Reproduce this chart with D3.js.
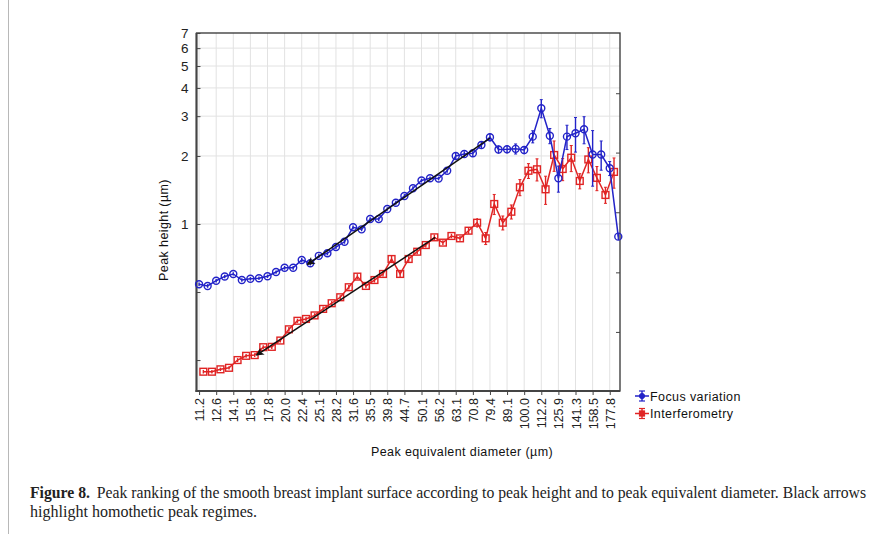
<!DOCTYPE html>
<html>
<head>
<meta charset="utf-8">
<script src="https://cdn.jsdelivr.net/npm/d3@7"></script>
<style>
  html, body { margin: 0; padding: 0; background: #fff; }
  svg { display: block; }
</style>
</head>
<body>
<svg id="chart" width="879" height="534"></svg>
<script>
// ---------- DATA ----------
const xLabels = ["11.2","12.6","14.1","15.8","17.8","20.0","22.4","25.1","28.2","31.6","35.5","39.8","44.7","50.1","56.2","63.1","70.8","79.4","89.1","100.0","112.2","125.9","141.3","158.5","177.8"];

// Focus variation (blue) – one value per bin (index 0..49)
const focusValues = [0.541,0.532,0.561,0.586,0.601,0.565,0.572,0.575,0.587,0.613,
                     0.640,0.640,0.693,0.670,0.723,0.742,0.791,0.834,0.967,0.947,
                     1.052,1.052,1.165,1.242,1.330,1.439,1.557,1.593,1.590,1.720,
                     2.000,2.040,2.055,2.236,2.420,2.137,2.140,2.150,2.125,2.435,
                     3.250,2.456,1.593,2.435,2.520,2.624,2.030,2.030,1.764,0.879];
const focusErr =    [0.010,0.010,0.010,0.010,0.010,0.010,0.010,0.010,0.010,0.010,
                     0.012,0.012,0.015,0.015,0.015,0.015,0.016,0.016,0.018,0.018,
                     0.020,0.020,0.022,0.024,0.026,0.030,0.030,0.030,0.030,0.035,
                     0.060,0.060,0.060,0.090,0.100,0.090,0.090,0.110,0.090,0.150,
                     0.300,0.190,0.210,0.300,0.440,0.360,0.560,0.300,0.126,0.030];

// Interferometry (red) – bins offset by half a step (index 0.5..48.5)
const interfValues = [0.222,0.222,0.2275,0.231,0.250,0.261,0.263,0.285,0.286,0.305,
                      0.342,0.373,0.380,0.394,0.421,0.446,0.474,0.525,0.585,0.532,
                      0.565,0.601,0.700,0.601,0.700,0.754,0.807,0.873,0.827,0.885,
                      0.864,0.934,1.013,0.864,1.226,1.013,1.133,1.453,1.720,1.746,
                      1.424,2.020,1.751,1.965,1.550,1.930,1.600,1.344,1.700];
const interfErr =    [0.004,0.004,0.004,0.004,0.005,0.005,0.005,0.006,0.006,0.006,
                      0.008,0.008,0.008,0.009,0.010,0.010,0.010,0.012,0.015,0.012,
                      0.014,0.015,0.025,0.020,0.020,0.020,0.020,0.025,0.020,0.020,
                      0.020,0.030,0.050,0.053,0.125,0.072,0.081,0.119,0.130,0.196,
                      0.203,0.310,0.196,0.260,0.120,0.246,0.196,0.110,0.260];

// Arrows (from -> to) in data coordinates [bin index, height]
const arrowFocus  = [[34.0, 2.40], [12.66, 0.662]];
const arrowInterf = [[27.6, 0.872], [6.71, 0.263]];

const yMajorTicks = [1,2,3,4,5,6,7];
const yMinorTicks = [0.25, 0.5];
const yRightTicks = [0.333, 0.611, 1.127, 2.07, 3.79];
const yGridValues = [1,2,3,4,5,6];

const seriesNames = ["Focus variation", "Interferometry"];
const BLUE = "#2323c8", RED = "#e02424";

const captionBold = "Figure 8.";
const captionLine1 = "Peak ranking of the smooth breast implant surface according to peak height and to peak equivalent diameter. Black arrows";
const captionLine2 = "highlight homothetic peak regimes.";

// ---------- LAYOUT ----------
const svg = d3.select("#chart");
const L = 196.5, R = 620, T = 33, B = 391;

const x = d3.scaleLinear().domain([-0.3, 49.2]).range([L, R]);
const y = d3.scaleLog().domain([0.1824, 7]).range([B, T]);

// page border line
svg.append("line").attr("x1", 8.5).attr("x2", 8.5).attr("y1", 0).attr("y2", 534)
  .attr("stroke", "#b8b8b8").attr("stroke-width", 1);

// grid
const g = svg.append("g");
g.selectAll(".vg").data(d3.range(0, 50, 2)).join("line")
  .attr("x1", d => x(d)).attr("x2", d => x(d)).attr("y1", T).attr("y2", B)
  .attr("stroke", "#e2e2e2").attr("stroke-width", 1);
g.selectAll(".hg").data(yGridValues).join("line")
  .attr("x1", L).attr("x2", R).attr("y1", d => y(d)).attr("y2", d => y(d))
  .attr("stroke", "#e2e2e2").attr("stroke-width", 1);

// frame
svg.append("rect").attr("x", L).attr("y", T).attr("width", R - L).attr("height", B - T)
  .attr("fill", "none").attr("stroke", "#333").attr("stroke-width", 1.3);
svg.append("line").attr("x1", L).attr("x2", L).attr("y1", T).attr("y2", B + 1)
  .attr("stroke", "#444").attr("stroke-width", 2);
svg.append("line").attr("x1", L - 1).attr("x2", R).attr("y1", B).attr("y2", B)
  .attr("stroke", "#444").attr("stroke-width", 2);

// Y axis (left) – ticks inward
const yAxis = d3.axisLeft(y).tickValues(yMajorTicks).tickSize(-4).tickPadding(8)
  .tickFormat(d3.format("d"));
const yAxisG = svg.append("g").attr("transform", `translate(${L},0)`).call(yAxis);
yAxisG.select(".domain").remove();
yAxisG.selectAll("text").attr("font-family", "Liberation Sans, Arial, sans-serif")
  .attr("font-size", 13.5).attr("fill", "#222");
yAxisG.selectAll("line").attr("stroke", "#444");
const yMinorG = svg.append("g").attr("transform", `translate(${L},0)`)
  .call(d3.axisLeft(y).tickValues(yMinorTicks).tickSize(-4).tickFormat(""));
yMinorG.select(".domain").remove();
yMinorG.selectAll("line").attr("stroke", "#444");
const yRightG = svg.append("g").attr("transform", `translate(${R},0)`)
  .call(d3.axisRight(y).tickValues(yRightTicks).tickSize(-4).tickFormat(""));
yRightG.select(".domain").remove();
yRightG.selectAll("line").attr("stroke", "#444");

// X axis – ticks outward, rotated labels
const xAxis = d3.axisBottom(x).tickValues(d3.range(0, 50, 2)).tickSize(4).tickPadding(4)
  .tickFormat((d) => xLabels[d / 2]);
const xAxisG = svg.append("g").attr("transform", `translate(0,${B})`).call(xAxis);
xAxisG.select(".domain").remove();
xAxisG.selectAll("line").attr("stroke", "#444");
xAxisG.selectAll("text")
  .attr("font-family", "Liberation Sans, Arial, sans-serif").attr("font-size", 12.5)
  .attr("fill", "#222")
  .attr("text-anchor", "end")
  .attr("dy", null)
  .attr("y", 0)
  .attr("transform", "translate(4.5,7) rotate(-90)");

// axis titles
svg.append("text").attr("x", 462).attr("y", 456).attr("text-anchor", "middle")
  .attr("font-family", "Liberation Sans, Arial, sans-serif").attr("font-size", 12.5)
  .attr("letter-spacing", 0.4).attr("fill", "#111")
  .text("Peak equivalent diameter (µm)");
svg.append("text").attr("transform", "translate(168,230) rotate(-90)").attr("text-anchor", "middle")
  .attr("font-family", "Liberation Sans, Arial, sans-serif").attr("font-size", 12.5)
  .attr("letter-spacing", 0.4).attr("fill", "#111")
  .text("Peak height (µm)");

// ---------- SERIES ----------
function drawSeries(values, errs, offset, color, shape) {
  const data = values.map((v, i) => ({ i: i + offset, v, e: errs[i] }));
  const sg = svg.append("g");
  const big = data.filter(d => y(d.v - d.e) - y(d.v + d.e) > 10);
  sg.selectAll(".eb").data(data).join("line")
    .attr("x1", d => x(d.i)).attr("x2", d => x(d.i))
    .attr("y1", d => y(d.v + d.e)).attr("y2", d => y(Math.max(d.v - d.e, 0.19)))
    .attr("stroke", color).attr("stroke-width", 1.4);
  sg.selectAll(".ec1").data(big).join("line")
    .attr("x1", d => x(d.i) - 1.5).attr("x2", d => x(d.i) + 1.5)
    .attr("y1", d => y(d.v + d.e)).attr("y2", d => y(d.v + d.e))
    .attr("stroke", color).attr("stroke-width", 1);
  sg.selectAll(".ec2").data(big).join("line")
    .attr("x1", d => x(d.i) - 1.5).attr("x2", d => x(d.i) + 1.5)
    .attr("y1", d => y(d.v - d.e)).attr("y2", d => y(d.v - d.e))
    .attr("stroke", color).attr("stroke-width", 1);
  sg.append("path").datum(data)
    .attr("d", d3.line().x(d => x(d.i)).y(d => y(d.v)))
    .attr("fill", "none").attr("stroke", color).attr("stroke-width", 1.5);
  if (shape === "circle") {
    sg.selectAll(".m").data(data).join("circle")
      .attr("cx", d => x(d.i)).attr("cy", d => y(d.v)).attr("r", 3.5)
      .attr("fill", "none").attr("stroke", color).attr("stroke-width", 1.4);
  } else {
    sg.selectAll(".m").data(data).join("rect")
      .attr("x", d => x(d.i) - 3.4).attr("y", d => y(d.v) - 3.4)
      .attr("width", 6.8).attr("height", 6.8)
      .attr("fill", "none").attr("stroke", color).attr("stroke-width", 1.4);
  }
}
drawSeries(interfValues, interfErr, 0.5, RED, "square");
drawSeries(focusValues, focusErr, 0, BLUE, "circle");

// ---------- ARROWS ----------
const defs = svg.append("defs");
defs.append("marker").attr("id", "ah").attr("viewBox", "0 0 10 10")
  .attr("refX", 9).attr("refY", 5).attr("markerWidth", 11).attr("markerHeight", 8)
  .attr("markerUnits", "userSpaceOnUse").attr("orient", "auto")
  .append("path").attr("d", "M0,0 L10,5 L0,10 L2.5,5 z").attr("fill", "#111");
[arrowFocus, arrowInterf].forEach(a => {
  svg.append("line")
    .attr("x1", x(a[0][0])).attr("y1", y(a[0][1]))
    .attr("x2", x(a[1][0])).attr("y2", y(a[1][1]))
    .attr("stroke", "#111").attr("stroke-width", 1.5)
    .attr("marker-end", "url(#ah)");
});

// ---------- LEGEND ----------
const leg = svg.append("g");
[[BLUE, "circle"], [RED, "square"]].forEach((s, k) => {
  const cy = 396 + k * 17.5, cx = 642;
  leg.append("line").attr("x1", cx - 7).attr("x2", cx + 7).attr("y1", cy).attr("y2", cy)
    .attr("stroke", s[0]).attr("stroke-width", 1.5);
  leg.append("line").attr("x1", cx).attr("x2", cx).attr("y1", cy - 5).attr("y2", cy + 5)
    .attr("stroke", s[0]).attr("stroke-width", 1.4);
  leg.append("line").attr("x1", cx - 3).attr("x2", cx + 3).attr("y1", cy - 5).attr("y2", cy - 5)
    .attr("stroke", s[0]).attr("stroke-width", 1.2);
  leg.append("line").attr("x1", cx - 3).attr("x2", cx + 3).attr("y1", cy + 5).attr("y2", cy + 5)
    .attr("stroke", s[0]).attr("stroke-width", 1.2);
  if (s[1] === "circle") {
    leg.append("circle").attr("cx", cx).attr("cy", cy).attr("r", 2.6)
      .attr("fill", s[0]).attr("stroke", s[0]);
  } else {
    leg.append("rect").attr("x", cx - 2.6).attr("y", cy - 2.6).attr("width", 5.2).attr("height", 5.2)
      .attr("fill", s[0]).attr("stroke", s[0]);
  }
  leg.append("text").attr("x", cx + 8).attr("y", cy + 4.5)
    .attr("font-family", "Liberation Sans, Arial, sans-serif").attr("font-size", 12.5)
    .attr("letter-spacing", 0.4).attr("fill", "#111")
    .text(seriesNames[k]);
});

// ---------- CAPTION ----------
const cap = svg.append("g").attr("font-family", "Liberation Serif, 'Times New Roman', serif")
  .attr("font-size", 16).attr("fill", "#222");
const c1 = cap.append("text").attr("x", 30).attr("y", 498);
c1.append("tspan").attr("font-weight", "bold").text(captionBold);
c1.append("tspan").attr("dx", 7).text(captionLine1);
c1.attr("textLength", 836).attr("lengthAdjust", "spacingAndGlyphs");
cap.append("text").attr("x", 30).attr("y", 517).text(captionLine2)
  .attr("textLength", 227).attr("lengthAdjust", "spacingAndGlyphs");
</script>
</body>
</html>
